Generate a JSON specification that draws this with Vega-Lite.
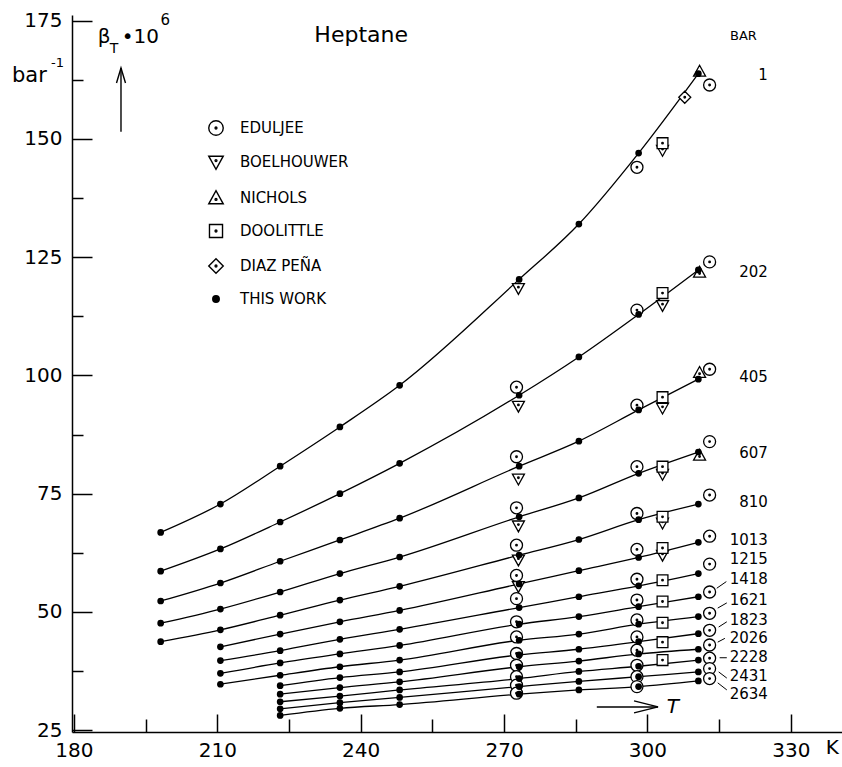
{
  "$schema": "https://vega.github.io/schema/vega-lite/v6.json",
  "width": 770,
  "height": 717,
  "autosize": {"type": "none"},
  "padding": {"left": 72, "top": 15, "right": 0, "bottom": 35},
  "background": "white",
  "config": {"view": {"stroke": null}, "font": "DejaVu Sans", "text": {"font": "DejaVu Sans", "color": "black"}},
  "datasets": {
    "pts": [
      {"source": "BOELHOUWER", "T": 273.0, "beta": 118.4, "p": "1"},
      {"source": "BOELHOUWER", "T": 273.0, "beta": 93.5, "p": "202"},
      {"source": "BOELHOUWER", "T": 273.0, "beta": 78.1, "p": "405"},
      {"source": "BOELHOUWER", "T": 273.0, "beta": 68.2, "p": "607"},
      {"source": "BOELHOUWER", "T": 273.0, "beta": 61.0, "p": "810"},
      {"source": "BOELHOUWER", "T": 273.0, "beta": 55.4, "p": "1013"},
      {"source": "EDULJEE", "T": 272.6, "beta": 97.5, "p": "202"},
      {"source": "EDULJEE", "T": 272.6, "beta": 82.8, "p": "405"},
      {"source": "EDULJEE", "T": 272.6, "beta": 72.0, "p": "607"},
      {"source": "EDULJEE", "T": 272.6, "beta": 64.1, "p": "810"},
      {"source": "EDULJEE", "T": 272.6, "beta": 57.7, "p": "1013"},
      {"source": "EDULJEE", "T": 272.6, "beta": 52.8, "p": "1215"},
      {"source": "EDULJEE", "T": 272.6, "beta": 47.9, "p": "1418"},
      {"source": "EDULJEE", "T": 272.6, "beta": 44.7, "p": "1621"},
      {"source": "EDULJEE", "T": 272.6, "beta": 41.2, "p": "1823"},
      {"source": "EDULJEE", "T": 272.6, "beta": 38.7, "p": "2026"},
      {"source": "EDULJEE", "T": 272.6, "beta": 36.3, "p": "2228"},
      {"source": "EDULJEE", "T": 272.6, "beta": 34.5, "p": "2431"},
      {"source": "EDULJEE", "T": 272.6, "beta": 32.8, "p": "2634"},
      {"source": "EDULJEE", "T": 297.8, "beta": 144.0, "p": "1"},
      {"source": "EDULJEE", "T": 297.8, "beta": 113.8, "p": "202"},
      {"source": "EDULJEE", "T": 297.8, "beta": 93.7, "p": "405"},
      {"source": "EDULJEE", "T": 297.8, "beta": 80.7, "p": "607"},
      {"source": "EDULJEE", "T": 297.8, "beta": 70.8, "p": "810"},
      {"source": "EDULJEE", "T": 297.8, "beta": 63.2, "p": "1013"},
      {"source": "EDULJEE", "T": 297.8, "beta": 56.9, "p": "1215"},
      {"source": "EDULJEE", "T": 297.8, "beta": 52.5, "p": "1418"},
      {"source": "EDULJEE", "T": 297.8, "beta": 48.3, "p": "1621"},
      {"source": "EDULJEE", "T": 297.8, "beta": 44.7, "p": "1823"},
      {"source": "EDULJEE", "T": 297.8, "beta": 41.9, "p": "2026"},
      {"source": "EDULJEE", "T": 297.8, "beta": 38.7, "p": "2228"},
      {"source": "EDULJEE", "T": 297.8, "beta": 36.3, "p": "2431"},
      {"source": "EDULJEE", "T": 297.8, "beta": 34.2, "p": "2634"},
      {"source": "EDULJEE", "T": 313.0, "beta": 161.4, "p": "1"},
      {"source": "EDULJEE", "T": 313.0, "beta": 124.0, "p": "202"},
      {"source": "EDULJEE", "T": 313.0, "beta": 101.3, "p": "405"},
      {"source": "EDULJEE", "T": 313.0, "beta": 86.0, "p": "607"},
      {"source": "EDULJEE", "T": 313.0, "beta": 74.7, "p": "810"},
      {"source": "EDULJEE", "T": 313.0, "beta": 66.0, "p": "1013"},
      {"source": "EDULJEE", "T": 313.0, "beta": 60.1, "p": "1215"},
      {"source": "EDULJEE", "T": 313.0, "beta": 54.2, "p": "1418"},
      {"source": "EDULJEE", "T": 313.0, "beta": 49.7, "p": "1621"},
      {"source": "EDULJEE", "T": 313.0, "beta": 46.1, "p": "1823"},
      {"source": "EDULJEE", "T": 313.0, "beta": 43.0, "p": "2026"},
      {"source": "EDULJEE", "T": 313.0, "beta": 40.2, "p": "2228"},
      {"source": "EDULJEE", "T": 313.0, "beta": 38.0, "p": "2431"},
      {"source": "EDULJEE", "T": 313.0, "beta": 35.9, "p": "2634"},
      {"source": "BOELHOUWER", "T": 303.15, "beta": 147.6, "p": "1"},
      {"source": "BOELHOUWER", "T": 303.15, "beta": 114.8, "p": "202"},
      {"source": "BOELHOUWER", "T": 303.15, "beta": 93.1, "p": "405"},
      {"source": "BOELHOUWER", "T": 303.15, "beta": 79.1, "p": "607"},
      {"source": "BOELHOUWER", "T": 303.15, "beta": 68.8, "p": "810"},
      {"source": "BOELHOUWER", "T": 303.15, "beta": 62.0, "p": "1013"},
      {"source": "DOOLITTLE", "T": 303.15, "beta": 149.1, "p": "1"},
      {"source": "DOOLITTLE", "T": 303.15, "beta": 117.4, "p": "202"},
      {"source": "DOOLITTLE", "T": 303.15, "beta": 95.4, "p": "405"},
      {"source": "DOOLITTLE", "T": 303.15, "beta": 80.7, "p": "607"},
      {"source": "DOOLITTLE", "T": 303.15, "beta": 70.1, "p": "810"},
      {"source": "DOOLITTLE", "T": 303.15, "beta": 63.5, "p": "1013"},
      {"source": "DOOLITTLE", "T": 303.15, "beta": 56.7, "p": "1215"},
      {"source": "DOOLITTLE", "T": 303.15, "beta": 52.2, "p": "1418"},
      {"source": "DOOLITTLE", "T": 303.15, "beta": 47.7, "p": "1621"},
      {"source": "DOOLITTLE", "T": 303.15, "beta": 43.6, "p": "1823"},
      {"source": "DOOLITTLE", "T": 303.15, "beta": 39.8, "p": "2026"},
      {"source": "DIAZ PEÑA", "T": 307.8, "beta": 158.8, "p": "1"},
      {"source": "NICHOLS", "T": 310.9, "beta": 164.3, "p": "1"},
      {"source": "NICHOLS", "T": 310.9, "beta": 121.8, "p": "202"},
      {"source": "NICHOLS", "T": 310.9, "beta": 100.6, "p": "405"},
      {"source": "NICHOLS", "T": 310.9, "beta": 83.1, "p": "607"},
      {"source": "THIS WORK", "T": 198.15, "beta": 66.8, "p": "1"},
      {"source": "THIS WORK", "T": 210.65, "beta": 72.8, "p": "1"},
      {"source": "THIS WORK", "T": 223.15, "beta": 80.8, "p": "1"},
      {"source": "THIS WORK", "T": 235.65, "beta": 89.1, "p": "1"},
      {"source": "THIS WORK", "T": 248.15, "beta": 97.9, "p": "1"},
      {"source": "THIS WORK", "T": 273.15, "beta": 120.3, "p": "1"},
      {"source": "THIS WORK", "T": 285.65, "beta": 132.0, "p": "1"},
      {"source": "THIS WORK", "T": 298.15, "beta": 147.0, "p": "1"},
      {"source": "THIS WORK", "T": 310.65, "beta": 163.8, "p": "1"},
      {"source": "THIS WORK", "T": 198.15, "beta": 58.6, "p": "202"},
      {"source": "THIS WORK", "T": 210.65, "beta": 63.3, "p": "202"},
      {"source": "THIS WORK", "T": 223.15, "beta": 69.0, "p": "202"},
      {"source": "THIS WORK", "T": 235.65, "beta": 75.0, "p": "202"},
      {"source": "THIS WORK", "T": 248.15, "beta": 81.4, "p": "202"},
      {"source": "THIS WORK", "T": 273.15, "beta": 95.8, "p": "202"},
      {"source": "THIS WORK", "T": 285.65, "beta": 103.9, "p": "202"},
      {"source": "THIS WORK", "T": 298.15, "beta": 112.9, "p": "202"},
      {"source": "THIS WORK", "T": 310.65, "beta": 122.3, "p": "202"},
      {"source": "THIS WORK", "T": 198.15, "beta": 52.3, "p": "405"},
      {"source": "THIS WORK", "T": 210.65, "beta": 56.1, "p": "405"},
      {"source": "THIS WORK", "T": 223.15, "beta": 60.7, "p": "405"},
      {"source": "THIS WORK", "T": 235.65, "beta": 65.2, "p": "405"},
      {"source": "THIS WORK", "T": 248.15, "beta": 69.8, "p": "405"},
      {"source": "THIS WORK", "T": 273.15, "beta": 80.8, "p": "405"},
      {"source": "THIS WORK", "T": 285.65, "beta": 86.1, "p": "405"},
      {"source": "THIS WORK", "T": 298.15, "beta": 92.7, "p": "405"},
      {"source": "THIS WORK", "T": 310.65, "beta": 99.2, "p": "405"},
      {"source": "THIS WORK", "T": 198.15, "beta": 47.6, "p": "607"},
      {"source": "THIS WORK", "T": 210.65, "beta": 50.6, "p": "607"},
      {"source": "THIS WORK", "T": 223.15, "beta": 54.2, "p": "607"},
      {"source": "THIS WORK", "T": 235.65, "beta": 58.1, "p": "607"},
      {"source": "THIS WORK", "T": 248.15, "beta": 61.6, "p": "607"},
      {"source": "THIS WORK", "T": 273.15, "beta": 70.1, "p": "607"},
      {"source": "THIS WORK", "T": 285.65, "beta": 74.1, "p": "607"},
      {"source": "THIS WORK", "T": 298.15, "beta": 79.3, "p": "607"},
      {"source": "THIS WORK", "T": 310.65, "beta": 83.8, "p": "607"},
      {"source": "THIS WORK", "T": 198.15, "beta": 43.7, "p": "810"},
      {"source": "THIS WORK", "T": 210.65, "beta": 46.2, "p": "810"},
      {"source": "THIS WORK", "T": 223.15, "beta": 49.3, "p": "810"},
      {"source": "THIS WORK", "T": 235.65, "beta": 52.5, "p": "810"},
      {"source": "THIS WORK", "T": 248.15, "beta": 55.4, "p": "810"},
      {"source": "THIS WORK", "T": 273.15, "beta": 62.0, "p": "810"},
      {"source": "THIS WORK", "T": 285.65, "beta": 65.3, "p": "810"},
      {"source": "THIS WORK", "T": 298.15, "beta": 69.5, "p": "810"},
      {"source": "THIS WORK", "T": 310.65, "beta": 72.8, "p": "810"},
      {"source": "THIS WORK", "T": 210.65, "beta": 42.6, "p": "1013"},
      {"source": "THIS WORK", "T": 223.15, "beta": 45.3, "p": "1013"},
      {"source": "THIS WORK", "T": 235.65, "beta": 47.9, "p": "1013"},
      {"source": "THIS WORK", "T": 248.15, "beta": 50.3, "p": "1013"},
      {"source": "THIS WORK", "T": 273.15, "beta": 55.9, "p": "1013"},
      {"source": "THIS WORK", "T": 285.65, "beta": 58.7, "p": "1013"},
      {"source": "THIS WORK", "T": 298.15, "beta": 61.5, "p": "1013"},
      {"source": "THIS WORK", "T": 310.65, "beta": 64.7, "p": "1013"},
      {"source": "THIS WORK", "T": 210.65, "beta": 39.7, "p": "1215"},
      {"source": "THIS WORK", "T": 223.15, "beta": 41.8, "p": "1215"},
      {"source": "THIS WORK", "T": 235.65, "beta": 44.2, "p": "1215"},
      {"source": "THIS WORK", "T": 248.15, "beta": 46.3, "p": "1215"},
      {"source": "THIS WORK", "T": 273.15, "beta": 50.9, "p": "1215"},
      {"source": "THIS WORK", "T": 285.65, "beta": 53.2, "p": "1215"},
      {"source": "THIS WORK", "T": 298.15, "beta": 55.5, "p": "1215"},
      {"source": "THIS WORK", "T": 310.65, "beta": 58.1, "p": "1215"},
      {"source": "THIS WORK", "T": 210.65, "beta": 37.0, "p": "1418"},
      {"source": "THIS WORK", "T": 223.15, "beta": 39.2, "p": "1418"},
      {"source": "THIS WORK", "T": 235.65, "beta": 41.1, "p": "1418"},
      {"source": "THIS WORK", "T": 248.15, "beta": 42.9, "p": "1418"},
      {"source": "THIS WORK", "T": 273.15, "beta": 47.4, "p": "1418"},
      {"source": "THIS WORK", "T": 285.65, "beta": 49.0, "p": "1418"},
      {"source": "THIS WORK", "T": 298.15, "beta": 51.1, "p": "1418"},
      {"source": "THIS WORK", "T": 310.65, "beta": 53.2, "p": "1418"},
      {"source": "THIS WORK", "T": 210.65, "beta": 34.7, "p": "1621"},
      {"source": "THIS WORK", "T": 223.15, "beta": 36.6, "p": "1621"},
      {"source": "THIS WORK", "T": 235.65, "beta": 38.4, "p": "1621"},
      {"source": "THIS WORK", "T": 248.15, "beta": 39.8, "p": "1621"},
      {"source": "THIS WORK", "T": 273.15, "beta": 44.0, "p": "1621"},
      {"source": "THIS WORK", "T": 285.65, "beta": 45.3, "p": "1621"},
      {"source": "THIS WORK", "T": 298.15, "beta": 47.4, "p": "1621"},
      {"source": "THIS WORK", "T": 310.65, "beta": 49.0, "p": "1621"},
      {"source": "THIS WORK", "T": 223.15, "beta": 34.4, "p": "1823"},
      {"source": "THIS WORK", "T": 235.65, "beta": 36.1, "p": "1823"},
      {"source": "THIS WORK", "T": 248.15, "beta": 37.3, "p": "1823"},
      {"source": "THIS WORK", "T": 273.15, "beta": 40.9, "p": "1823"},
      {"source": "THIS WORK", "T": 285.65, "beta": 42.1, "p": "1823"},
      {"source": "THIS WORK", "T": 298.15, "beta": 43.7, "p": "1823"},
      {"source": "THIS WORK", "T": 310.65, "beta": 45.4, "p": "1823"},
      {"source": "THIS WORK", "T": 223.15, "beta": 32.6, "p": "2026"},
      {"source": "THIS WORK", "T": 235.65, "beta": 34.0, "p": "2026"},
      {"source": "THIS WORK", "T": 248.15, "beta": 35.2, "p": "2026"},
      {"source": "THIS WORK", "T": 273.15, "beta": 38.4, "p": "2026"},
      {"source": "THIS WORK", "T": 285.65, "beta": 39.6, "p": "2026"},
      {"source": "THIS WORK", "T": 298.15, "beta": 41.1, "p": "2026"},
      {"source": "THIS WORK", "T": 310.65, "beta": 42.1, "p": "2026"},
      {"source": "THIS WORK", "T": 223.15, "beta": 31.0, "p": "2228"},
      {"source": "THIS WORK", "T": 235.65, "beta": 32.2, "p": "2228"},
      {"source": "THIS WORK", "T": 248.15, "beta": 33.5, "p": "2228"},
      {"source": "THIS WORK", "T": 273.15, "beta": 35.9, "p": "2228"},
      {"source": "THIS WORK", "T": 285.65, "beta": 37.4, "p": "2228"},
      {"source": "THIS WORK", "T": 298.15, "beta": 38.5, "p": "2228"},
      {"source": "THIS WORK", "T": 310.65, "beta": 39.8, "p": "2228"},
      {"source": "THIS WORK", "T": 223.15, "beta": 29.5, "p": "2431"},
      {"source": "THIS WORK", "T": 235.65, "beta": 30.8, "p": "2431"},
      {"source": "THIS WORK", "T": 248.15, "beta": 31.9, "p": "2431"},
      {"source": "THIS WORK", "T": 273.15, "beta": 34.2, "p": "2431"},
      {"source": "THIS WORK", "T": 285.65, "beta": 35.3, "p": "2431"},
      {"source": "THIS WORK", "T": 298.15, "beta": 36.3, "p": "2431"},
      {"source": "THIS WORK", "T": 310.65, "beta": 37.3, "p": "2431"},
      {"source": "THIS WORK", "T": 223.15, "beta": 28.1, "p": "2634"},
      {"source": "THIS WORK", "T": 235.65, "beta": 29.6, "p": "2634"},
      {"source": "THIS WORK", "T": 248.15, "beta": 30.4, "p": "2634"},
      {"source": "THIS WORK", "T": 273.15, "beta": 32.6, "p": "2634"},
      {"source": "THIS WORK", "T": 285.65, "beta": 33.5, "p": "2634"},
      {"source": "THIS WORK", "T": 298.15, "beta": 34.2, "p": "2634"},
      {"source": "THIS WORK", "T": 310.65, "beta": 35.4, "p": "2634"}
    ],
    "ends": [
      {"p": "1", "T": 325.2, "beta": 163.5},
      {"p": "202", "T": 325.2, "beta": 121.9},
      {"p": "405", "T": 325.2, "beta": 99.7},
      {"p": "607", "T": 325.2, "beta": 83.6},
      {"p": "810", "T": 325.2, "beta": 73.3},
      {"p": "1013", "T": 325.2, "beta": 65.2},
      {"p": "1215", "T": 325.2, "beta": 61.1},
      {"p": "1418", "T": 325.2, "beta": 56.9},
      {"p": "1621", "T": 325.2, "beta": 52.5},
      {"p": "1823", "T": 325.2, "beta": 48.3},
      {"p": "2026", "T": 325.2, "beta": 44.5},
      {"p": "2228", "T": 325.2, "beta": 40.4},
      {"p": "2431", "T": 325.2, "beta": 36.5},
      {"p": "2634", "T": 325.2, "beta": 32.6}
    ],
    "leaders": [
      {"p": "1418", "T1": 314.5, "T2": 316.5, "b1": 55.0, "b2": 56.4},
      {"p": "1621", "T1": 314.7, "T2": 316.6, "b1": 50.8, "b2": 51.9},
      {"p": "1823", "T1": 314.9, "T2": 316.6, "b1": 46.8, "b2": 47.9},
      {"p": "2026", "T1": 314.7, "T2": 316.2, "b1": 43.6, "b2": 44.4},
      {"p": "2228", "T1": 315.1, "T2": 316.6, "b1": 40.3, "b2": 40.3},
      {"p": "2431", "T1": 314.9, "T2": 316.6, "b1": 37.3, "b2": 36.0},
      {"p": "2634", "T1": 314.7, "T2": 316.6, "b1": 35.0, "b2": 33.5}
    ],
    "one": [{}]
  },
  "layer": [
    {
      "data": {"name": "pts"},
      "transform": [{"filter": "datum.source == 'THIS WORK'"}],
      "mark": {"type": "line", "color": "black", "strokeWidth": 1.3, "interpolate": "monotone"},
      "encoding": {
        "x": {
          "field": "T", "type": "quantitative",
          "scale": {"domain": [179.6, 340.7], "nice": false, "zero": false},
          "axis": {
            "title": null, "grid": false,
            "values": [180, 195, 210, 225, 240, 255, 270, 285, 300, 315, 330],
            "labelExpr": "datum.value % 30 == 0 ? datum.label : ''",
            "tickSize": {"condition": {"test": "datum.value % 30 == 0", "value": -18}, "value": -13},
            "labelPadding": 26,
            "labelFont": "DejaVu Sans", "labelFontSize": 20, "labelColor": "black",
            "tickColor": "black", "tickWidth": 1.5, "domainColor": "black", "domainWidth": 1.5,
            "labelFlush": false, "labelOverlap": false
          }
        },
        "y": {
          "field": "beta", "type": "quantitative",
          "scale": {"domain": [24.6, 176.2], "nice": false, "zero": false},
          "axis": {
            "title": null, "grid": false,
            "values": [25, 37.5, 50, 62.5, 75, 87.5, 100, 112.5, 125, 137.5, 150, 162.5, 175],
            "labelExpr": "datum.value % 25 == 0 ? datum.label : ''",
            "tickSize": {"condition": {"test": "datum.value % 25 == 0", "value": -20}, "value": -11},
            "labelPadding": 30,
            "labelFont": "DejaVu Sans", "labelFontSize": 20, "labelColor": "black",
            "tickColor": "black", "tickWidth": 1.5, "domainColor": "black", "domainWidth": 1.5,
            "labelFlush": false, "labelOverlap": false
          }
        },
        "detail": {"field": "p"}
      }
    },
    {
      "data": {"name": "pts"},
      "mark": {"type": "point", "filled": false, "stroke": "black", "strokeWidth": 1.3, "size": 144, "opacity": 1},
      "encoding": {
        "x": {"field": "T", "type": "quantitative"},
        "y": {"field": "beta", "type": "quantitative"},
        "shape": {
          "field": "source", "type": "nominal",
          "scale": {
            "domain": ["EDULJEE", "BOELHOUWER", "NICHOLS", "DOOLITTLE", "DIAZ PEÑA", "THIS WORK"],
            "range": [
              "M1,0A1,1,0,1,1,-1,0A1,1,0,1,1,1,0ZM0.13,0A0.13,0.13,0,1,1,-0.13,0A0.13,0.13,0,1,1,0.13,0Z",
              "M-1,-0.8L1,-0.8L0,1ZM0.13,-0.2A0.13,0.13,0,1,1,-0.13,-0.2A0.13,0.13,0,1,1,0.13,-0.2Z",
              "M-1,0.8L1,0.8L0,-1ZM0.13,0.2A0.13,0.13,0,1,1,-0.13,0.2A0.13,0.13,0,1,1,0.13,0.2Z",
              "M-0.9,-0.9L0.9,-0.9L0.9,0.9L-0.9,0.9ZM0.13,0A0.13,0.13,0,1,1,-0.13,0A0.13,0.13,0,1,1,0.13,0Z",
              "M0,-1L1,0L0,1L-1,0ZM0.13,0A0.13,0.13,0,1,1,-0.13,0A0.13,0.13,0,1,1,0.13,0Z",
              "M0.45,0A0.45,0.45,0,1,1,-0.45,0A0.45,0.45,0,1,1,0.45,0ZM0.28,0A0.28,0.28,0,1,1,-0.28,0A0.28,0.28,0,1,1,0.28,0ZM0.12,0A0.12,0.12,0,1,1,-0.12,0A0.12,0.12,0,1,1,0.12,0Z"
            ]
          },
          "legend": {
            "title": null, "orient": "none", "legendX": 136, "legendY": 105,
            "labelFont": "DejaVu Sans", "labelFontSize": 15, "labelColor": "black",
            "symbolStrokeColor": "black", "symbolFillColor": "white", "symbolStrokeWidth": 1.4, "symbolSize": 210,
            "symbolOpacity": 1,
            "rowPadding": 14, "labelOffset": 16, "padding": 0
          }
        },
        "fill": {
          "field": "source", "type": "nominal",
          "scale": {
            "domain": ["EDULJEE", "BOELHOUWER", "NICHOLS", "DOOLITTLE", "DIAZ PEÑA", "THIS WORK"],
            "range": ["white", "white", "white", "white", "white", "black"]
          },
          "legend": null
        }
      }
    },
    {
      "data": {"name": "leaders"},
      "mark": {"type": "rule", "color": "black", "strokeWidth": 1},
      "encoding": {
        "x": {"field": "T1", "type": "quantitative"},
        "x2": {"field": "T2"},
        "y": {"field": "b1", "type": "quantitative"},
        "y2": {"field": "b2"}
      }
    },
    {
      "data": {"name": "ends"},
      "mark": {"type": "text", "align": "right", "baseline": "middle", "fontSize": 15, "font": "DejaVu Sans", "color": "black"},
      "encoding": {
        "x": {"field": "T", "type": "quantitative"},
        "y": {"field": "beta", "type": "quantitative"},
        "text": {"field": "p"}
      }
    },
    {
      "data": {"name": "one"},
      "mark": {"type": "text", "align": "right", "baseline": "alphabetic", "fontSize": 13, "color": "black"},
      "encoding": {"x": {"datum": 322.9}, "y": {"datum": 170.9}, "text": {"value": "BAR"}}
    },
    {
      "data": {"name": "one"},
      "mark": {"type": "text", "align": "center", "baseline": "middle", "fontSize": 22, "color": "black"},
      "encoding": {"x": {"datum": 240.1}, "y": {"datum": 172.0}, "text": {"value": "Heptane"}}
    },
    {
      "data": {"name": "one"},
      "mark": {"type": "text", "align": "center", "baseline": "alphabetic", "fontSize": 20, "color": "black"},
      "encoding": {"x": {"datum": 186.3}, "y": {"datum": 170.3}, "text": {"value": "β"}}
    },
    {
      "data": {"name": "one"},
      "mark": {"type": "text", "align": "center", "baseline": "alphabetic", "fontSize": 14, "color": "black"},
      "encoding": {"x": {"datum": 188.4}, "y": {"datum": 168.2}, "text": {"value": "T"}}
    },
    {
      "data": {"name": "one"},
      "mark": {"type": "text", "align": "left", "baseline": "alphabetic", "fontSize": 20, "color": "black"},
      "encoding": {"x": {"datum": 190.0}, "y": {"datum": 170.3}, "text": {"value": "•10"}}
    },
    {
      "data": {"name": "one"},
      "mark": {"type": "text", "align": "center", "baseline": "alphabetic", "fontSize": 15, "color": "black"},
      "encoding": {"x": {"datum": 199.1}, "y": {"datum": 174.1}, "text": {"value": "6"}}
    },
    {
      "data": {"name": "one"},
      "mark": {"type": "text", "align": "left", "baseline": "alphabetic", "fontSize": 21, "color": "black"},
      "encoding": {"x": {"datum": 167.05}, "y": {"datum": 162.0}, "text": {"value": "bar"}}
    },
    {
      "data": {"name": "one"},
      "mark": {"type": "text", "align": "left", "baseline": "alphabetic", "fontSize": 13, "color": "black"},
      "encoding": {"x": {"datum": 175.2}, "y": {"datum": 165.2}, "text": {"value": "-1"}}
    },
    {
      "data": {"name": "one"},
      "mark": {"type": "rule", "color": "black", "strokeWidth": 1.4},
      "encoding": {"x": {"datum": 189.85}, "y": {"datum": 151.5}, "y2": {"datum": 165.0}}
    },
    {
      "data": {"name": "one"},
      "mark": {"type": "point", "shape": "M-0.6,1L0,-1L0.6,1", "size": 225, "filled": false, "stroke": "black", "strokeWidth": 1.4, "opacity": 1},
      "encoding": {"x": {"datum": 189.85}, "y": {"datum": 163.4}}
    },
    {
      "data": {"name": "one"},
      "mark": {"type": "rule", "color": "black", "strokeWidth": 1.4},
      "encoding": {"x": {"datum": 289.4}, "x2": {"datum": 302.2}, "y": {"datum": 29.9}}
    },
    {
      "data": {"name": "one"},
      "mark": {"type": "point", "shape": "M-1,-0.5L1,0L-1,0.5", "size": 576, "filled": false, "stroke": "black", "strokeWidth": 1.4, "opacity": 1},
      "encoding": {"x": {"datum": 299.7}, "y": {"datum": 29.9}}
    },
    {
      "data": {"name": "one"},
      "mark": {"type": "text", "align": "center", "baseline": "middle", "fontSize": 20, "fontStyle": "italic", "color": "black"},
      "encoding": {"x": {"datum": 305.3}, "y": {"datum": 29.9}, "text": {"value": "T"}}
    },
    {
      "data": {"name": "one"},
      "mark": {"type": "text", "align": "left", "baseline": "middle", "fontSize": 20, "color": "black"},
      "encoding": {"x": {"datum": 337.3}, "y": {"datum": 21.2}, "text": {"value": "K"}}
    }
  ]
}
